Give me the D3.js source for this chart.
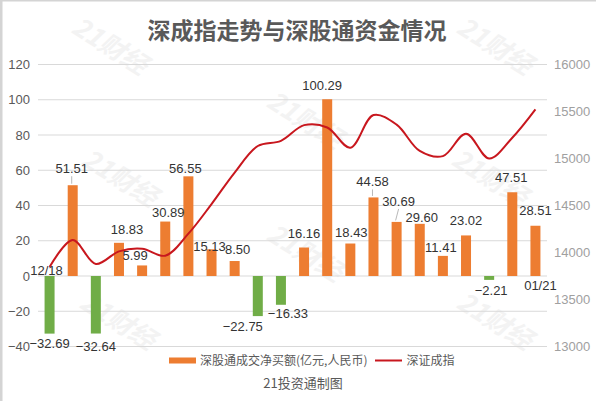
<!DOCTYPE html>
<html>
<head>
<meta charset="utf-8">
<script src="https://cdn.jsdelivr.net/npm/d3@7"></script>
<style>
  body { margin: 0; background: #fff; }
  svg { display: block; }
  text { font-family: "Liberation Sans", "Noto Sans CJK SC", sans-serif; }
  .cjk { font-family: "Noto Sans CJK SC", "Liberation Sans", sans-serif; }
</style>
</head>
<body>
<script>
// categories (trading days 12/18 .. 01/21, only the ends are labelled)
const days = d3.range(22)
const firstDay = '12/18'
const lastDay = '01/21'

// 深股通成交净买额 (亿元)
const netBuy = [-32.69, 51.51, -32.64, 18.83, 5.99, 30.89, 56.55, 15.13, 8.50, -22.75, -16.33,
    16.16, 100.29, 18.43, 44.58, 30.69, 29.60, 11.41, 23.02, -2.21, 47.51, 28.51]

// 深证成指
const szIndex = [13845, 14133, 13878, 14012, 14040, 13966, 14200, 14515, 14850, 15133, 15188,
    15355, 15330, 15115, 15462, 15360, 15080, 15025, 15264, 15000, 15221, 15523]

const leftTicks = [-40, -20, 0, 20, 40, 60, 80, 100, 120]
const rightTicks = [13000, 13500, 14000, 14500, 15000, 15500, 16000]

// hand placed label nudges (dx, dy) as in the original
const nudge = [[0, -1], [-1, -4], [0, 2], [8, 0], [-7, 3], [3, 4], [-3, 5], [-2, 10], [3, 1], [-15, -1], [7, -2],
    [0, -1], [-5, -1], [1, 2], [-1, -3], [2, -8], [2, 6], [-2, 4], [0, -2], [2, -1], [-1, -2], [0, -2]]
const leaders = [1, 14, 15]

const w = 596
const h = 401
const pLeft = 38
const pRight = 547
const pTop = 64.5
const pBottom = 346.5

const svg = d3.select('body').append('svg')
    .attr('width', w)
    .attr('height', h)

// border on top / left like the screenshot
svg.append('line').attr('x1', 0).attr('x2', w).attr('y1', 0.75).attr('y2', 0.75)
    .style('stroke', '#d4d4d4').style('stroke-width', 1.5)
svg.append('line').attr('x1', 1.25).attr('x2', 1.25).attr('y1', 0).attr('y2', h)
    .style('stroke', '#d4d4d4').style('stroke-width', 2.5)

// watermark
const marks = [[110, 46], [495, 46], [305, 120], [120, 178], [490, 178], [305, 253], [118, 321], [495, 321]]
svg.append('g').selectAll('text')
    .data(marks)
    .enter()
    .append('text')
    .attr('class', 'cjk')
    .attr('transform', d => `translate(${d[0]},${d[1]}) rotate(32)`)
    .attr('text-anchor', 'middle')
    .attr('dy', '0.35em')
    .style('font-size', '26px')
    .style('font-weight', 'bold')
    .style('font-style', 'italic')
    .style('fill', '#f3f3f3')
    .text('21财经')

const x = d3.scaleBand().domain(days).range([pLeft, pRight])
const yL = d3.scaleLinear().domain([-40, 120]).range([pBottom, pTop])
const yR = d3.scaleLinear().domain([13000, 16000]).range([pBottom, pTop])
const barW = 10

// gridlines
svg.append('g').selectAll('line')
    .data(leftTicks)
    .enter()
    .append('line')
    .attr('x1', pLeft)
    .attr('x2', pRight)
    .attr('y1', d => yL(d))
    .attr('y2', d => yL(d))
    .style('stroke', '#d9d9d9')
    .style('stroke-width', 1)

// left axis
const yAxisL = d3.axisLeft(yL).tickValues(leftTicks).tickSize(0).tickPadding(0)
    .tickFormat(d => d < 0 ? '\u2212' + Math.abs(d) : d)
svg.append('g')
    .attr('transform', `translate(30,0)`)
    .call(yAxisL)
    .call(g => g.select('.domain').remove())
    .call(g => g.selectAll('text').style('font-size', '13px').style('fill', '#595959')
        .style('font-family', '"Liberation Sans", sans-serif'))

// right axis
const yAxisR = d3.axisRight(yR).tickValues(rightTicks).tickSize(0).tickPadding(0)
    .tickFormat(d3.format('d'))
svg.append('g')
    .attr('transform', `translate(554,0)`)
    .call(yAxisR)
    .call(g => g.select('.domain').remove())
    .call(g => g.selectAll('text').style('font-size', '13px').style('fill', '#a0a0a0')
        .style('font-family', '"Liberation Sans", sans-serif'))

// bars
const cx = i => x(i) + x.bandwidth() / 2
svg.append('g').selectAll('rect')
    .data(netBuy)
    .enter()
    .append('rect')
    .attr('x', (d, i) => cx(i) - barW / 2)
    .attr('y', d => yL(Math.max(0, d)))
    .attr('width', barW)
    .attr('height', d => Math.abs(yL(d) - yL(0)))
    .style('fill', d => d < 0 ? '#70AD47' : '#ED7D31')

// index line
const line = d3.line()
    .x((d, i) => cx(i))
    .y(d => yR(d))
    .curve(d3.curveCatmullRom.alpha(0.5))
svg.append('path')
    .datum(szIndex)
    .attr('d', line)
    .style('fill', 'none')
    .style('stroke', '#C8171E')
    .style('stroke-width', 2)

// label centres
const labelX = i => cx(i) + nudge[i][0]
const labelY = (d, i) => (d < 0 ? yL(d) + 11 : yL(d) - 13) + nudge[i][1]

// leader lines
svg.append('g').selectAll('line')
    .data(leaders)
    .enter()
    .append('line')
    .attr('x1', i => cx(i) - 1)
    .attr('y1', i => yL(netBuy[i]) - 1.5)
    .attr('x2', i => labelX(i))
    .attr('y2', i => labelY(netBuy[i], i) + 8)
    .style('stroke', '#a6a6a6')
    .style('stroke-width', 0.8)

// data labels
svg.append('g').selectAll('text')
    .data(netBuy)
    .enter()
    .append('text')
    .attr('x', (d, i) => labelX(i))
    .attr('y', (d, i) => labelY(d, i))
    .attr('dy', '0.36em')
    .attr('text-anchor', 'middle')
    .style('font-size', '13px')
    .style('fill', '#333')
    .text(d => (d < 0 ? '\u2212' : '') + Math.abs(d).toFixed(2))

// category labels at the ends
svg.append('text')
    .attr('x', cx(0) - 3)
    .attr('y', yL(0) - 6)
    .attr('dy', '0.36em')
    .attr('text-anchor', 'middle')
    .style('font-size', '13px')
    .style('fill', '#333')
    .text(firstDay)
svg.append('text')
    .attr('x', cx(days.length - 1) + 5)
    .attr('y', yL(0) + 9)
    .attr('dy', '0.36em')
    .attr('text-anchor', 'middle')
    .style('font-size', '13px')
    .style('fill', '#333')
    .text(lastDay)

// title
svg.append('text')
    .attr('class', 'cjk')
    .attr('x', 297)
    .attr('y', 31)
    .attr('dy', '0.36em')
    .attr('text-anchor', 'middle')
    .style('font-size', '23px')
    .style('font-weight', 'bold')
    .style('fill', '#595959')
    .text('深成指走势与深股通资金情况')

// legend
svg.append('rect')
    .attr('x', 169)
    .attr('y', 357.5)
    .attr('width', 27)
    .attr('height', 6)
    .style('fill', '#ED7D31')
svg.append('text')
    .attr('class', 'cjk')
    .attr('x', 200)
    .attr('y', 360.5)
    .attr('dy', '0.36em')
    .style('font-size', '12px')
    .style('fill', '#595959')
    .text('深股通成交净买额(亿元,人民币)')
svg.append('line')
    .attr('x1', 375)
    .attr('x2', 402)
    .attr('y1', 360.5)
    .attr('y2', 360.5)
    .style('stroke', '#C8171E')
    .style('stroke-width', 2)
svg.append('text')
    .attr('class', 'cjk')
    .attr('x', 406.5)
    .attr('y', 360.5)
    .attr('dy', '0.36em')
    .style('font-size', '12px')
    .style('fill', '#595959')
    .text('深证成指')

// source
svg.append('text')
    .attr('class', 'cjk')
    .attr('x', 303)
    .attr('y', 383.5)
    .attr('dy', '0.36em')
    .attr('text-anchor', 'middle')
    .style('font-size', '13px')
    .style('fill', '#595959')
    .text('21投资通制图')
</script>
</body>
</html>
